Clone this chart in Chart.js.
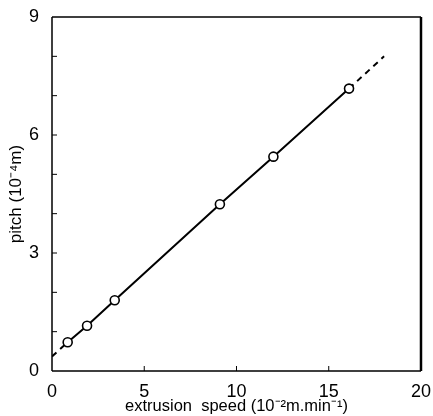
<!DOCTYPE html>
<html>
<head>
<meta charset="utf-8">
<script src="https://cdn.jsdelivr.net/npm/chart.js@4"></script>
<style>
body { margin: 0; background: #fff; }
</style>
</head>
<body>
<canvas id="cvs" width="433" height="416"></canvas>
<script>
// measured points
var speed = [0.85, 1.9, 3.4, 9.1, 12.0, 16.1]
var pitch = [0.73, 1.15, 1.8, 4.24, 5.45, 7.18]
// dashed extrapolations of the fitted line
var extLowX = [0, 0.85]
var extLowY = [0.37, 0.73]
var extHighX = [16.1, 18]
var extHighY = [7.18, 8.0]
var xTicks = [0, 5, 10, 15, 20]
var yTicks = [0, 3, 6, 9]

function pts(xs, ys){
	return xs.map(function(x, i){ return {x: x, y: ys[i]} })
}

var frame = {
	id: 'frame',
	afterDraw: function(chart){
		var c = chart.ctx, a = chart.chartArea
		var xs = chart.scales.x, ys = chart.scales.y
		c.save()
		c.strokeStyle = '#000'
		c.lineWidth = 1.5
		c.beginPath()
		c.moveTo(a.left, a.top); c.lineTo(a.right, a.top)
		c.moveTo(a.left, a.top); c.lineTo(a.left, a.bottom)
		c.moveTo(a.left, a.bottom); c.lineTo(a.right, a.bottom)
		c.stroke()
		c.lineWidth = 2.5
		c.beginPath()
		c.moveTo(a.right, a.top); c.lineTo(a.right, a.bottom)
		c.stroke()
		// inward ticks
		c.lineWidth = 1
		c.beginPath()
		for (var v = 5; v < 20; v += 5){
			var px = xs.getPixelForValue(v)
			c.moveTo(px, a.bottom); c.lineTo(px, a.bottom - 5)
		}
		for (var w = 1; w < 9; w++){
			var py = ys.getPixelForValue(w)
			c.moveTo(a.left, py); c.lineTo(a.left + 5, py)
		}
		c.stroke()
		c.restore()
	}
}

var font = {family: 'Liberation Sans', size: 18}

new Chart(document.getElementById('cvs').getContext('2d'), {
	type: 'scatter',
	data: {
		datasets: [{
			data: pts(speed, pitch),
			showLine: true,
			borderColor: '#000',
			borderWidth: 2,
			pointRadius: 4.5,
			pointBackgroundColor: '#fff',
			pointBorderColor: '#000',
			pointBorderWidth: 1.6
		}, {
			data: pts(extLowX, extLowY),
			showLine: true,
			borderColor: '#000',
			borderWidth: 2,
			borderDash: [6, 5],
			pointRadius: 0
		}, {
			data: pts(extHighX, extHighY),
			showLine: true,
			borderColor: '#000',
			borderWidth: 2,
			borderDash: [6, 5],
			pointRadius: 0
		}]
	},
	options: {
		responsive: false,
		animation: false,
		layout: {padding: {left: 0, right: 12, top: 17, bottom: 0}},
		plugins: {legend: {display: false}, tooltip: {enabled: false}},
		scales: {
			x: {
				type: 'linear', min: 0, max: 20,
				afterBuildTicks: function(s){ s.ticks = xTicks.map(function(v){ return {value: v} }) },
				grid: {display: false},
				border: {display: false},
				ticks: {color: '#000', font: font, padding: 2, maxRotation: 0},
				title: {display: true, text: 'extrusion  speed (10\u207B\u00B2m.min\u207B\u00B9)', color: '#000',
					font: {family: 'Liberation Sans', size: 16.5}, padding: {top: 0, bottom: 0}},
				afterFit: function(s){ s.height = 45 }
			},
			y: {
				type: 'linear', min: 0, max: 9,
				afterBuildTicks: function(s){ s.ticks = yTicks.map(function(v){ return {value: v} }) },
				grid: {display: false},
				border: {display: false},
				ticks: {color: '#000', font: font, padding: 5},
				title: {display: true, text: 'pitch (10\u207B\u2074m)', color: '#000',
					font: {family: 'Liberation Sans', size: 17}, padding: {top: 6, bottom: 0}},
				afterFit: function(s){ s.width = 52 }
			}
		}
	},
	plugins: [frame]
})
</script>
</body>
</html>
